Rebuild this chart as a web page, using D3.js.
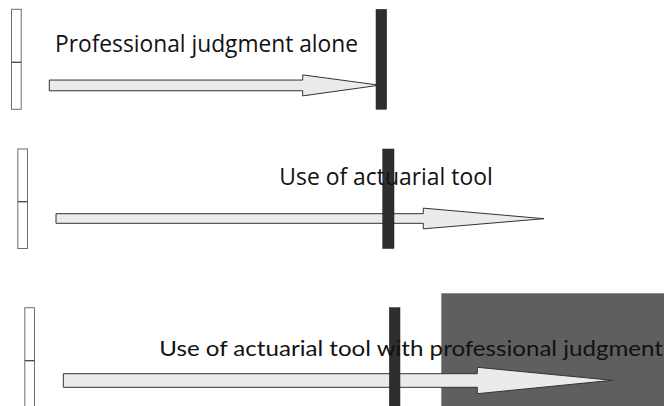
<!DOCTYPE html>
<html>
<head>
<meta charset="utf-8">
<script src="https://cdn.jsdelivr.net/npm/d3@7/dist/d3.min.js"></script>
<style>
  html, body { margin: 0; padding: 0; background: #ffffff; overflow: hidden; }
  svg { display: block; }
</style>
</head>
<body>
<div id="chart"></div>
<script>
// ---- Data ----
const labels = [
  "Professional judgment alone",
  "Use of actuarial tool",
  "Use of actuarial tool with professional judgment"
];
const arrowStart = [49.3, 56, 63.3];      // where each arrow begins
const arrowHeadBase = [302.7, 423.3, 477.3]; // where each arrowhead begins
const arrowEnd = [379.5, 544, 612.3];     // where each arrow reaches
const thresholdStart = [376, 382.7, 389.3]; // dark marker bar, left edge
const thresholdEnd = [386.7, 394, 400];     // dark marker bar, right edge
const highlightStart = [null, null, 441.3]; // gray shaded region (row 3 only)
const highlightEnd = [null, null, 664];
const originStart = [11, 17.3, 24.3];     // white origin box
const originEnd = [21.7, 28, 35];

// ---- Layout ----
const W = 664, H = 406;
const rowTop = [9.3, 149, 307.7];
const rowBottom = [109.3, 248.5, 410];
const dividerY = [62.3, 201.7, 360.7];
const highlightTop = [null, null, 293.3];
const shaftCenter = [85.4, 218.5, 380.5];
const shaftHalf = [5.35, 4.8, 6.8];
const headHalf = [10.5, 10.35, 13.2];
const tipY = [85.2, 218.7, 380.3];
const labelX = [55, 279.3, 159.3];
const labelBaseline = [51.5, 185, 356];
const labelWidth = [303, 213.4, 503.7];
const labelFont = ["'Open Sans', 'Noto Sans', sans-serif", "'Open Sans', 'Noto Sans', sans-serif", "'Century Gothic', Lato, 'DejaVu Sans', sans-serif"];
const labelSize = [24.5, 24.5, 21.5];

const x = d3.scaleLinear().domain([0, W]).range([0, W]);

const svg = d3.select("#chart").append("svg")
  .attr("width", W).attr("height", H)
  .attr("viewBox", `0 0 ${W} ${H}`);

const rows = d3.range(labels.length).map(i => ({ i }));

const g = svg.selectAll("g.row").data(rows).enter().append("g").attr("class", "row");

// gray highlight region
g.filter(d => highlightStart[d.i] != null).append("rect")
  .attr("x", d => x(highlightStart[d.i]))
  .attr("y", d => highlightTop[d.i])
  .attr("width", d => x(highlightEnd[d.i]) - x(highlightStart[d.i]))
  .attr("height", d => H - highlightTop[d.i])
  .attr("fill", "#5f5f5f");

// origin box (two stacked cells)
g.append("rect")
  .attr("x", d => x(originStart[d.i]) + 0.5)
  .attr("y", d => rowTop[d.i])
  .attr("width", d => x(originEnd[d.i]) - x(originStart[d.i]) - 1)
  .attr("height", d => rowBottom[d.i] - rowTop[d.i])
  .attr("fill", "#ffffff")
  .attr("stroke", "#6e6e6e")
  .attr("stroke-width", 1);
g.append("line")
  .attr("x1", d => x(originStart[d.i]) + 0.5)
  .attr("x2", d => x(originEnd[d.i]) - 0.5)
  .attr("y1", d => dividerY[d.i])
  .attr("y2", d => dividerY[d.i])
  .attr("stroke", "#444")
  .attr("stroke-width", 1.3);

// arrows
const arrowPath = d => {
  const i = d.i;
  const x0 = x(arrowStart[i]), xb = x(arrowHeadBase[i]), xt = x(arrowEnd[i]);
  const c = shaftCenter[i], s = shaftHalf[i], h = headHalf[i];
  return `M${x0},${c - s} L${xb},${c - s} L${xb},${c - h} L${xt},${tipY[i]} L${xb},${c + h} L${xb},${c + s} L${x0},${c + s} Z`;
};
g.append("path")
  .attr("d", arrowPath)
  .attr("fill", "#ebebeb")
  .attr("stroke", "#333")
  .attr("stroke-width", 1)
  .attr("stroke-linejoin", "miter");

// threshold markers
g.append("rect")
  .attr("x", d => x(thresholdStart[d.i]))
  .attr("y", d => rowTop[d.i])
  .attr("width", d => x(thresholdEnd[d.i]) - x(thresholdStart[d.i]))
  .attr("height", d => rowBottom[d.i] - rowTop[d.i])
  .attr("fill", "#2e2e2e")
  .attr("stroke", "#222")
  .attr("stroke-width", 0.5);

// labels
g.append("text")
  .attr("x", d => labelX[d.i])
  .attr("y", d => labelBaseline[d.i])
  .attr("textLength", d => labelWidth[d.i])
  .attr("lengthAdjust", "spacingAndGlyphs")
  .style("font-family", d => labelFont[d.i])
  .style("font-size", d => labelSize[d.i] + "px")
  .attr("fill", "#111")
  .text(d => labels[d.i]);
</script>
</body>
</html>
